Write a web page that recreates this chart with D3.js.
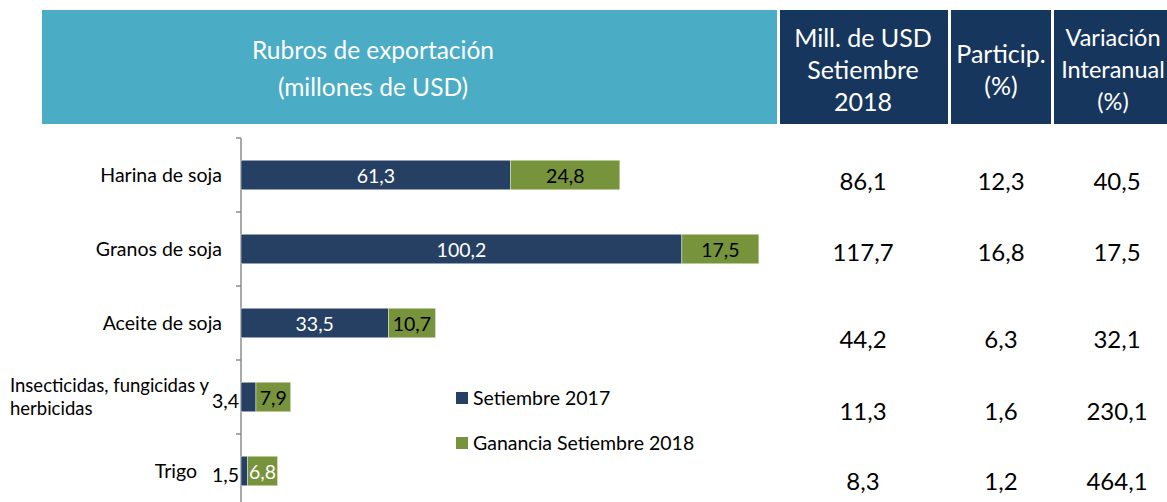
<!DOCTYPE html>
<html>
<head>
<meta charset="utf-8">
<script src="https://cdn.jsdelivr.net/npm/d3@7"></script>
<style>
  html, body { margin: 0; padding: 0; background: #fff; overflow: hidden; }
  svg { display: block; font-family: Lato, "Open Sans", sans-serif; }
</style>
</head>
<body>
<div id="chart"></div>
<script>
// Export items, Sept 2017 vs gain in Sept 2018 (millions USD)
const categories = ["Harina de soja", "Granos de soja", "Aceite de soja", "Insecticidas, fungicidas y herbicidas", "Trigo"];
const sep2017 = [61.3, 100.2, 33.5, 3.4, 1.5];
const gain2018 = [24.8, 17.5, 10.7, 7.9, 6.8];
const seriesNames = ["Setiembre 2017", "Ganancia Setiembre 2018"];

// Table columns
const colHeaders = [["Mill. de USD", "Setiembre", "2018"], ["Particip.", "(%)"], ["Variación", "Interanual", "(%)"]];
const totalSep2018 = ["86,1", "117,7", "44,2", "11,3", "8,3"];
const particip = ["12,3", "16,8", "6,3", "1,6", "1,2"];
const variacion = ["40,5", "17,5", "32,1", "230,1", "464,1"];

const width = 1167, height = 502;
const navy = "#264063", green = "#77933c", teal = "#4bacc6", darkHead = "#17365d";
const fmt = v => v.toFixed(1).replace(".", ",");

const svg = d3.select("#chart").append("svg")
    .attr("width", width)
    .attr("height", height);

// Header boxes
svg.append("rect").attr("x", 42).attr("y", 10).attr("width", 735).attr("height", 114).attr("fill", teal);
svg.append("text")
    .attr("fill", "#fff").attr("font-size", 24.5).attr("text-anchor", "middle")
    .selectAll("tspan").data(["Rubros de exportación", "(millones de USD)"]).join("tspan")
    .attr("x", 373).attr("y", (d, i) => 50 + i * 37).attr("dy", "0.35em").text(d => d);

const headCols = [
    {x: 780, w: 168, cx: 863, y0: 38, fs: 25},
    {x: 951, w: 100, cx: 1001, y0: 54, fs: 25},
    {x: 1054, w: 130, cx: 1113, y0: 38, fs: 23.5}
];
headCols.forEach((c, k) => {
    svg.append("rect").attr("x", c.x).attr("y", 10).attr("width", c.w).attr("height", 114).attr("fill", darkHead);
    svg.append("text")
        .attr("fill", "#fff").attr("font-size", c.fs).attr("text-anchor", "middle")
        .selectAll("tspan").data(colHeaders[k]).join("tspan")
        .attr("x", c.cx).attr("y", (d, i) => c.y0 + i * 32).attr("dy", "0.35em").text(d => d);
});

// Scales
const x = d3.scaleLinear().domain([0, 120]).range([241, 769]);
const y = d3.scaleBand().domain(categories).range([138, 508]).paddingInner(0.6).paddingOuter(0.3);

// Axis (category ticks at band boundaries)
const axisG = svg.append("g").attr("transform", `translate(${x(0)},0)`);
axisG.append("line").attr("y1", 138).attr("y2", height).attr("stroke", "#8c8c8c").attr("stroke-width", 1.5);
axisG.selectAll(".tk").data(categories).join("line")
    .attr("class", "tk")
    .attr("x1", -5).attr("x2", 0)
    .attr("y1", d => y(d) - y.step() * y.paddingInner() / 2)
    .attr("y2", d => y(d) - y.step() * y.paddingInner() / 2)
    .attr("stroke", "#8c8c8c").attr("stroke-width", 1.5);

// Category labels
categories.forEach(c => {
    const cy = y(c) + y.bandwidth() / 2;
    if (c.startsWith("Insecticidas")) {
        svg.append("text").attr("font-size", 18.5).attr("fill", "#000")
            .selectAll("tspan").data(["Insecticidas, fungicidas y", "herbicidas"]).join("tspan")
            .attr("x", 10).attr("y", (d, i) => cy - 11 + i * 23).attr("dy", "0.35em").text(d => d);
    } else {
        svg.append("text").attr("x", c === "Trigo" ? 197 : 222).attr("y", cy).attr("dy", "0.35em")
            .attr("text-anchor", "end").attr("font-size", 19.5).attr("fill", "#000").text(c);
    }
});

// Stacked bars
const rows = categories.map((c, i) => ({cat: c, a: sep2017[i], b: gain2018[i]}));
const barG = svg.append("g");
barG.selectAll(".s1").data(rows).join("rect")
    .attr("x", x(0)).attr("y", d => y(d.cat))
    .attr("width", d => x(d.a) - x(0)).attr("height", y.bandwidth())
    .attr("fill", navy).attr("stroke", "#e8ecf0").attr("stroke-width", 0.5);
barG.selectAll(".s2").data(rows).join("rect")
    .attr("x", d => x(d.a)).attr("y", d => y(d.cat))
    .attr("width", d => x(d.a + d.b) - x(d.a)).attr("height", y.bandwidth())
    .attr("fill", green).attr("stroke", "#e8f0d8").attr("stroke-width", 0.5);

// Bar value labels
barG.selectAll(".l1").data(rows).join("text")
    .attr("x", d => d.a < 5 ? x(0) - 2 : (x(0) + x(d.a)) / 2)
    .attr("y", d => y(d.cat) + y.bandwidth() / 2 + (d.a < 5 ? 4 : 1)).attr("dy", "0.35em")
    .attr("text-anchor", d => d.a < 5 ? "end" : "middle")
    .attr("font-size", 19.5)
    .attr("fill", d => d.a < 5 ? "#000" : "#fff")
    .text(d => fmt(d.a));
barG.selectAll(".l2").data(rows).join("text")
    .attr("x", d => (x(d.a) + x(d.a + d.b)) / 2)
    .attr("y", d => y(d.cat) + y.bandwidth() / 2 + 1).attr("dy", "0.35em")
    .attr("text-anchor", "middle").attr("font-size", 19.5)
    .attr("fill", d => d.cat === "Trigo" ? "#fff" : "#000")
    .text(d => fmt(d.b));

// Legend
const legend = svg.append("g").attr("transform", "translate(456,392)");
legend.selectAll("g").data(seriesNames).join("g")
    .attr("transform", (d, i) => `translate(0,${i * 45})`)
    .call(g => {
        g.append("rect").attr("width", 12).attr("height", 12).attr("fill", (d, i) => i ? green : navy);
        g.append("text").attr("x", 17).attr("y", 6).attr("dy", "0.35em")
            .attr("font-size", 19.5).attr("fill", "#000").text(d => d);
    });

// Table values
const tableRowY = [182, 253, 340, 412, 482];
[totalSep2018, particip, variacion].forEach((col, k) => {
    svg.append("g").selectAll("text").data(col).join("text")
        .attr("x", k === 2 ? 1117 : headCols[k].cx).attr("y", (d, i) => tableRowY[i]).attr("dy", "0.35em")
        .attr("text-anchor", "middle").attr("font-size", 24).attr("fill", "#000")
        .text(d => d);
});
</script>
</body>
</html>
